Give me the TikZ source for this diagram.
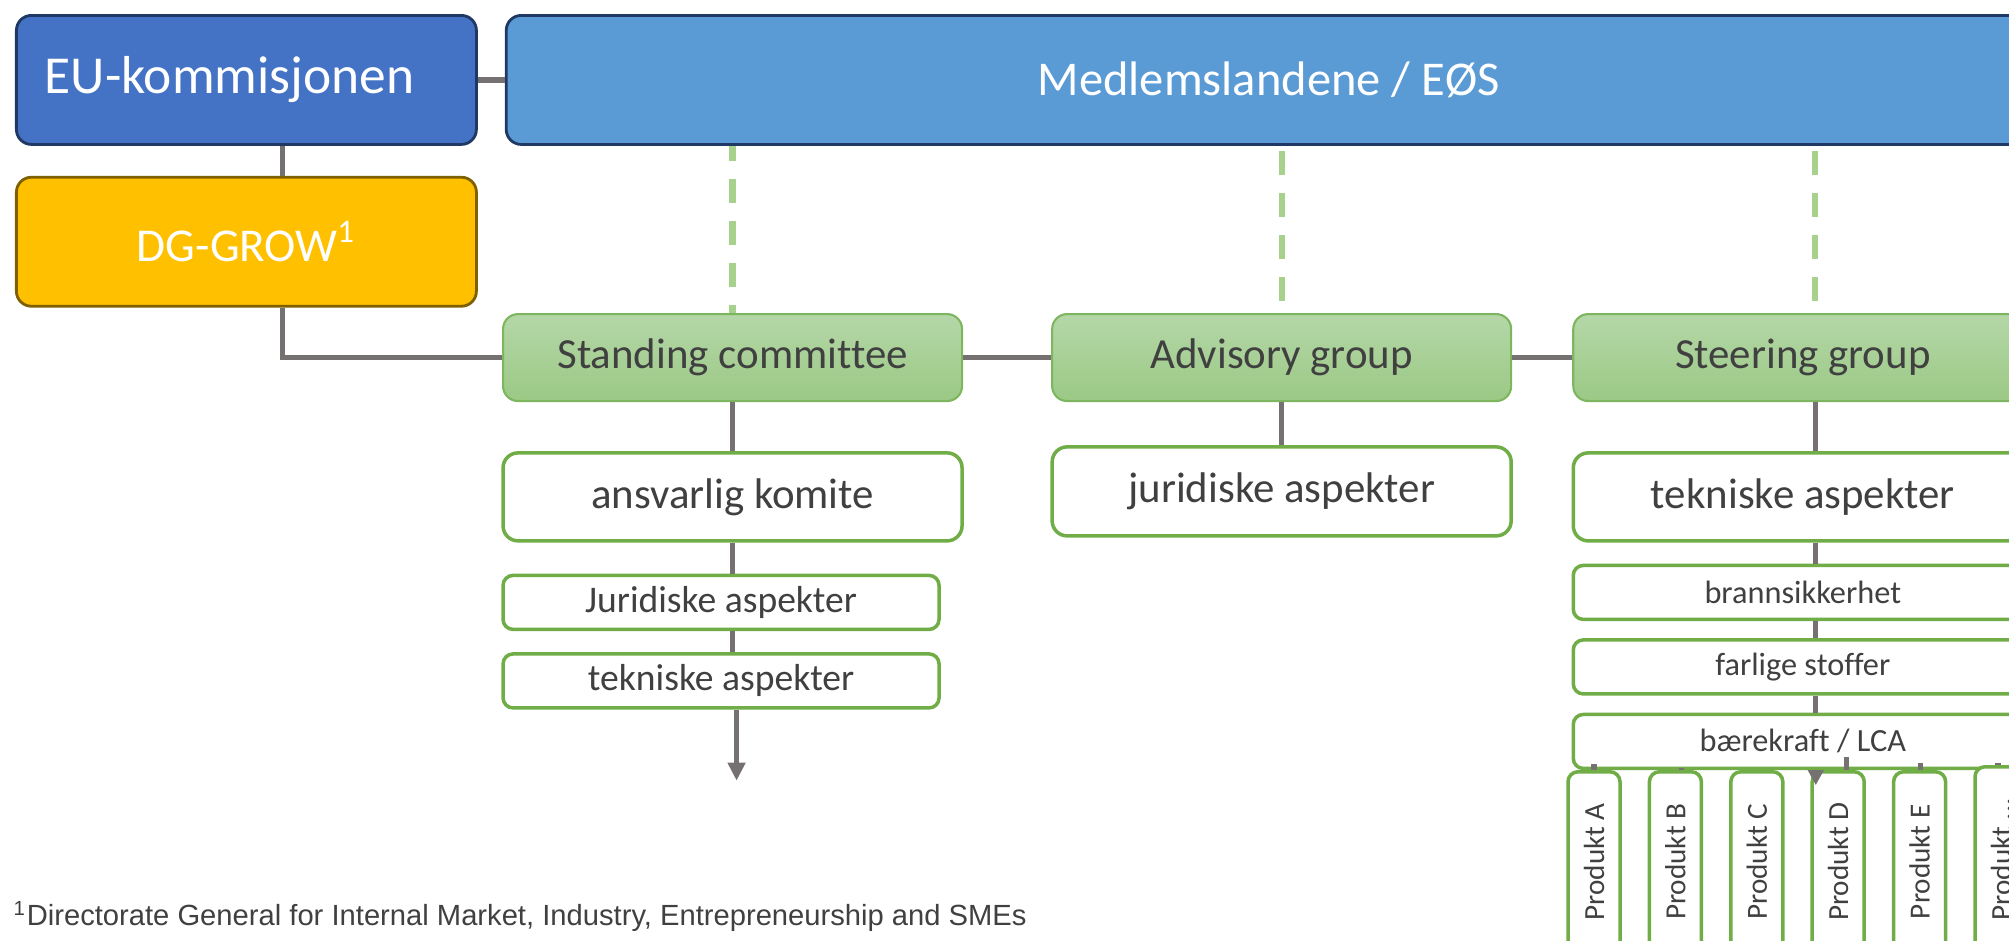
\documentclass[tikz,border=0pt]{standalone}
\usepackage{fontspec}
\setmainfont{Carlito}[Ligatures=NoCommon]
\newfontfamily\notefont{Liberation Sans}
\usetikzlibrary{positioning, arrows.meta}

\definecolor{linegray}{HTML}{767171}
\definecolor{textgray}{HTML}{404040}
\definecolor{navy}{HTML}{203864}
\definecolor{eublue}{HTML}{4472C4}
\definecolor{msblue}{HTML}{5B9BD5}
\definecolor{dgyellow}{HTML}{FFC000}
\definecolor{dgbrown}{HTML}{7F6000}
\definecolor{grptop}{HTML}{B5D7A8}
\definecolor{grpbot}{HTML}{9BC985}
\definecolor{grpline}{HTML}{7DB65F}
\definecolor{subgreen}{HTML}{70AD47}
\definecolor{dashgreen}{HTML}{A9D18E}

\begin{document}
\begin{tikzpicture}[
    node distance=0.3cm,
    box/.style={draw, rounded corners=0.15cm, align=center, inner sep=0pt},
    topbox/.style={box, draw=navy, line width=0.8pt, minimum height=1.29cm, text=white},
    grpbox/.style={box, draw=grpline, line width=0.6pt, top color=grptop, bottom color=grpbot, minimum width=4.59cm, minimum height=0.87cm, text=textgray, font=\fontsize{12.2}{14}\selectfont},
    bigbox/.style={box, draw=subgreen, line width=1pt, fill=white, minimum width=4.59cm, minimum height=0.88cm, text=textgray, font=\fontsize{12.2}{14}\selectfont},
    smallbox/.style={box, draw=subgreen, line width=1pt, fill=white, rounded corners=0.1cm, minimum height=0.54cm, text=textgray},
    prodbox/.style={box, draw=subgreen, line width=1pt, fill=white, rounded corners=0.1cm, rotate=90, anchor=east, minimum width=1.80cm, minimum height=0.52cm, text=textgray, font=\fontsize{8.3}{10}\selectfont},
    link/.style={draw=linegray, line width=1.5pt},
    member/.style={draw=dashgreen, line width=1.8pt, dash pattern=on 0.24cm off 0.18cm}
]
    \useasboundingbox (0,0) rectangle (20.09,-9.40);
    \clip (0,0) rectangle (20.09,-9.40);

    % Top level
    \node[topbox, fill=eublue, minimum width=4.60cm, font=\fontsize{15.2}{17}\selectfont, anchor=north west] (eu) at (0.15,-0.14) {EU-kommisjonen\hspace*{0.34cm}};
    \node[topbox, fill=msblue, minimum width=15.25cm, font=\fontsize{13.8}{16}\selectfont, right=0.27cm of eu] (ms) {Medlemslandene / EØS};
    \node[topbox, fill=dgyellow, draw=dgbrown, minimum width=4.60cm, font=\fontsize{13.4}{16}\selectfont, below=0.30cm of eu] (dg) {DG-GROW\textsuperscript{1}};

    % Groups
    \node[grpbox, anchor=north west] (stc) at (5.02,-3.13) {Standing committee};
    \node[grpbox, right=0.88cm of stc] (adv) {Advisory group};
    \node[grpbox, right=0.60cm of adv] (stg) {Steering group};

    % Standing committee column
    \node[bigbox, below=0.49cm of stc] (ans) {ansvarlig komite};
    \node[smallbox, minimum width=4.36cm, font=\fontsize{10.7}{12}\selectfont, below=0.31cm of ans.south west, anchor=north west] (jur1) {Juridiske aspekter};
    \node[smallbox, minimum width=4.36cm, font=\fontsize{10.7}{12}\selectfont, below=0.21cm of jur1] (tek1) {tekniske aspekter};

    % Advisory group column
    \node[bigbox, minimum height=0.89cm, below=0.43cm of adv] (jur2) {juridiske aspekter};

    % Steering group column
    \node[bigbox, below=0.49cm of stg] (tek2) {tekniske aspekter};
    \node[smallbox, minimum width=4.59cm, font=\fontsize{9.2}{11}\selectfont, below=0.21cm of tek2] (bran) {brannsikkerhet};
    \node[smallbox, minimum width=4.59cm, font=\fontsize{9.2}{11}\selectfont, below=0.17cm of bran] (farl) {farlige stoffer};
    \node[smallbox, minimum width=4.59cm, font=\fontsize{9.2}{11}\selectfont, below=0.17cm of farl] (baer) {bærekraft / LCA};

    % Products
    \foreach \n [count=\i from 0] in {A,B,C,D,E}
        \node[prodbox] (p\n) at ({15.94+\i*0.814},-7.70) {Produkt \n};
    \node[prodbox, minimum width=1.85cm] (px) at (20.01,-7.65) {Produkt ...};

    % Connections
    \draw[link] (eu) -- (ms);
    \draw[link] ([xshift=0.36cm]eu.south) -- ([xshift=0.36cm]dg.north);
    \draw[link] ([xshift=0.36cm]dg.south) |- (stc.west);
    \draw[link] (stc) -- (adv);
    \draw[link] (adv) -- (stg);

    \draw[member, dash phase=0.16cm] (stc.north) -- (stc.north |- ms.south);
    \draw[member, dash phase=0.37cm] (adv.north |- ms.south) -- (adv.north);
    \draw[member, dash phase=0.37cm] ([xshift=0.12cm]stg.north |- ms.south) -- ([xshift=0.12cm]stg.north);

    \draw[link] (stc) -- (ans);
    \draw[link] (ans.south) -- (ans.south |- jur1.north);
    \draw[link] (ans.south |- jur1.south) -- (ans.south |- tek1.north);
    \draw[link, -{Triangle[length=0.18cm, width=0.17cm]}] ([xshift=0.04cm]ans.south |- tek1.south) -- ++(0,-0.71);

    \draw[link] (adv) -- (jur2);

    \draw[link] ([xshift=0.13cm]stg.south) -- ([xshift=0.13cm]tek2.north);
    \draw[link] ([xshift=0.13cm]tek2.south) -- ([xshift=0.13cm]tek2.south |- bran.north);
    \draw[link] ([xshift=0.13cm]tek2.south |- bran.south) -- ([xshift=0.13cm]tek2.south |- farl.north);
    \draw[link] ([xshift=0.13cm]tek2.south |- farl.south) -- ([xshift=0.13cm]tek2.south |- baer.north);
    \draw[link, -{Triangle[length=0.15cm, width=0.15cm]}] ([xshift=0.13cm]baer.south) -- ++(0,-0.15);

    % stubs above the products
    \foreach \n/\dx/\h in {A/0/0.06, B/0.06/0.02, D/0.08/0.13, E/0.01/0.07, x/-0.03/0.02}
        \draw[link] ([xshift=\dx cm]p\n.east) -- ++(0,\h);

    % Footnote
    \node[anchor=base west, inner sep=0pt, text=textgray, font=\notefont\fontsize{8.3}{10}\selectfont] (note) at (0.13,-9.25)
        {\textsuperscript{1}Directorate General for Internal Market, Industry, Entrepreneurship and SMEs};
\end{tikzpicture}
\end{document}
